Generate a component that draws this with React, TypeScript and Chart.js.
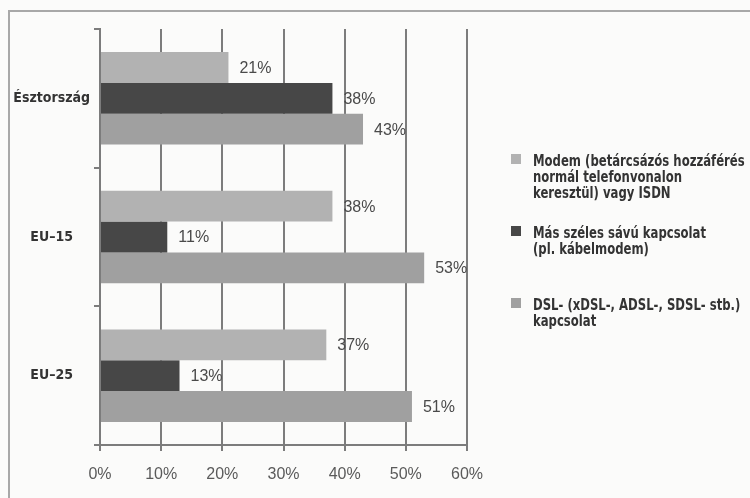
import React, { useEffect, useRef } from "react";
import { Chart, registerables } from "chart.js";

Chart.register(...registerables);

const categories = ["Észtország", "EU–15", "EU–25"];
const modemValues = [21, 38, 37];
const broadbandValues = [38, 11, 13];
const dslValues = [43, 53, 51];
const xTicks = [0, 10, 20, 30, 40, 50, 60];

const modemLegend = ["Modem (betárcsázós hozzáférés", "normál telefonvonalon", "keresztül) vagy ISDN"];
const broadbandLegend = ["Más széles sávú kapcsolat", "(pl. kábelmodem)"];
const dslLegend = ["DSL- (xDSL-, ADSL-, SDSL- stb.)", "kapcsolat"];

const NARROW = "'Liberation Sans Narrow', 'DejaVu Sans Condensed', 'Noto Sans', sans-serif";
const REGULAR = "'Liberation Sans', Arial, sans-serif";
const GRID = "#7c7c7c";

const backgroundPlugin = {
  id: "bgFrame",
  beforeDraw(chart: any) {
    const { ctx, width, height } = chart;
    ctx.save();
    ctx.fillStyle = "#fbfbfa";
    ctx.fillRect(0, 0, width, height);
    ctx.strokeStyle = "#a8a8a8";
    ctx.lineWidth = 2;
    ctx.beginPath();
    ctx.moveTo(9, height);
    ctx.lineTo(9, 11);
    ctx.lineTo(width, 11);
    ctx.stroke();
    ctx.restore();
  },
};

const valueLabelPlugin = {
  id: "valueLabels",
  afterDatasetsDraw(chart: any) {
    const { ctx } = chart;
    ctx.save();
    ctx.font = `16px ${REGULAR}`;
    ctx.fillStyle = "#4a4a4a";
    ctx.textAlign = "left";
    ctx.textBaseline = "middle";
    chart.data.datasets.forEach((ds: any, i: number) => {
      const meta = chart.getDatasetMeta(i);
      meta.data.forEach((el: any, j: number) => {
        ctx.fillText(`${ds.data[j]}%`, el.x + 11, el.y + 1);
      });
    });
    ctx.restore();
  },
};

const legendPlugin = {
  id: "customLegend",
  afterDraw(chart: any) {
    const { ctx } = chart;
    const x0 = chart.chartArea.right + 44;
    let y = 154;
    const lineH = 16;
    const squeeze = 0.81;
    ctx.save();
    ctx.font = `bold 16px ${NARROW}`;
    ctx.textAlign = "left";
    ctx.textBaseline = "alphabetic";
    chart.data.datasets.forEach((ds: any) => {
      const lines: string[] = ds.legendLines;
      ctx.fillStyle = ds.backgroundColor;
      ctx.fillRect(x0, y, 10, 10);
      ctx.fillStyle = "#333333";
      lines.forEach((ln, k) => {
        const w = ctx.measureText(ln).width * squeeze;
        ctx.fillText(ln, x0 + 22, y + 12 + k * lineH, w);
      });
      y += 72;
    });
    ctx.restore();
  },
};

export default function App() {
  const ref = useRef<HTMLCanvasElement | null>(null);

  useEffect(() => {
    if (!ref.current) return;
    const chart = new Chart(ref.current, {
      type: "bar",
      data: {
        labels: categories,
        datasets: [
          { label: modemLegend.join(" "), legendLines: modemLegend, data: modemValues, backgroundColor: "#b2b2b2" } as any,
          { label: broadbandLegend.join(" "), legendLines: broadbandLegend, data: broadbandValues, backgroundColor: "#474747" } as any,
          { label: dslLegend.join(" "), legendLines: dslLegend, data: dslValues, backgroundColor: "#a0a0a0" } as any,
        ],
      },
      options: {
        indexAxis: "y",
        animation: false,
        responsive: false,
        layout: { padding: { left: 0, top: 29, right: 283, bottom: 0 } },
        datasets: { bar: { barPercentage: 1, categoryPercentage: 0.667 } },
        plugins: { legend: { display: false }, tooltip: { enabled: false } },
        scales: {
          x: {
            min: 0,
            max: 60,
            afterBuildTicks(scale: any) {
              scale.ticks = xTicks.map((v) => ({ value: v }));
            },
            afterFit(scale: any) {
              scale.height = 53;
            },
            grid: { color: GRID, lineWidth: 2, tickLength: 6, drawTicks: true },
            border: { display: true, color: GRID, width: 2 },
            ticks: {
              callback: (v: any) => `${v}%`,
              font: { family: REGULAR, size: 16 },
              color: "#5a5a5a",
              padding: 14,
            },
          },
          y: {
            afterFit(scale: any) {
              scale.width = 100;
            },
            grid: { offset: true, drawOnChartArea: false, drawTicks: true, tickLength: 6, color: GRID, lineWidth: 2 },
            border: { display: true, color: GRID, width: 2 },
            ticks: {
              crossAlign: "center",
              padding: 4,
              font: { family: NARROW, size: 14, weight: "bold" },
              color: "#333333",
            },
          },
        },
      } as any,
      plugins: [backgroundPlugin, valueLabelPlugin, legendPlugin],
    });
    return () => chart.destroy();
  }, []);

  return (
    <div style={{ position: "fixed", left: 0, top: 0, width: 750, height: 498 }}>
      <canvas ref={ref} width={750} height={498} style={{ width: 750, height: 498 }} />
    </div>
  );
}
